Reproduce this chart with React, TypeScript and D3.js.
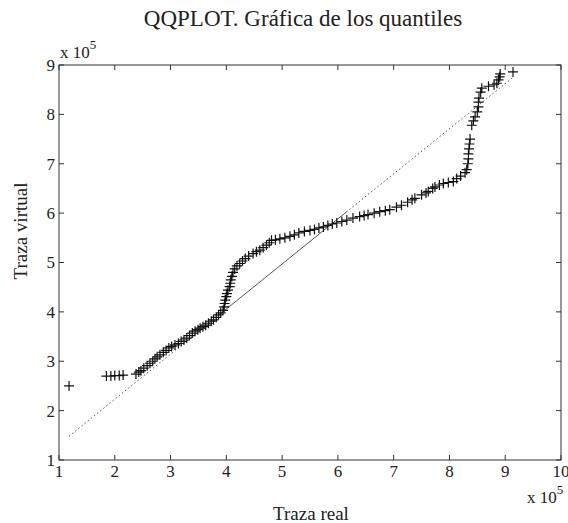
import React from 'react';
import * as d3 from 'd3';

// values in units of 10^5 (sorted quantile pairs)
const trazaReal = [
  1.18, 1.85, 1.93, 2.0, 2.08, 2.15, 2.38, 2.43, 2.47, 2.52, 2.58, 2.63, 2.68, 2.72, 2.76, 2.81,
  2.87, 2.92, 2.97, 3.02, 3.08, 3.14, 3.19, 3.24, 3.29, 3.34, 3.39, 3.44, 3.49, 3.53, 3.58, 3.63,
  3.68, 3.73, 3.77, 3.82, 3.86, 3.9, 3.94, 3.96, 3.97, 3.98, 4.0, 4.01, 4.03, 4.06, 4.07, 4.08,
  4.1, 4.12, 4.15, 4.19, 4.24, 4.29, 4.34, 4.4, 4.48, 4.54, 4.6, 4.66, 4.72, 4.77, 4.81, 4.88,
  4.96, 5.05, 5.14, 5.22, 5.3, 5.4, 5.5, 5.58, 5.66, 5.74, 5.82, 5.9, 5.98, 6.07, 6.16, 6.27,
  6.39, 6.47, 6.54, 6.65, 6.75, 6.85, 6.93, 7.05, 7.14, 7.25, 7.33, 7.38, 7.5, 7.58, 7.62, 7.7,
  7.74, 7.82, 7.89, 7.98, 8.07, 8.13, 8.2, 8.28, 8.31, 8.33, 8.34, 8.34, 8.35, 8.36, 8.37, 8.4,
  8.43, 8.46, 8.5, 8.52, 8.52, 8.53, 8.56, 8.58, 8.7, 8.8, 8.85, 8.88, 8.9, 8.91, 9.14,
];
const trazaVirtual = [
  2.5, 2.7, 2.7, 2.71, 2.71, 2.72, 2.74, 2.78, 2.81, 2.86, 2.91, 2.96, 3.0, 3.05, 3.09, 3.13,
  3.18, 3.22, 3.27, 3.3, 3.33, 3.36, 3.4, 3.43, 3.47, 3.52, 3.57, 3.61, 3.64, 3.67, 3.7, 3.73,
  3.77, 3.81, 3.84, 3.89, 3.94, 3.98, 4.03, 4.1, 4.17, 4.24, 4.31, 4.37, 4.44, 4.51, 4.58, 4.65,
  4.72, 4.8, 4.87, 4.93, 4.98, 5.03, 5.08, 5.13, 5.18, 5.22, 5.25, 5.3, 5.35, 5.4, 5.45, 5.46,
  5.48, 5.5, 5.53, 5.56, 5.6, 5.63, 5.65, 5.67, 5.7, 5.72, 5.75, 5.78, 5.8, 5.83, 5.86, 5.9,
  5.93, 5.95, 5.97, 6.0, 6.03, 6.05, 6.07, 6.12, 6.16, 6.22, 6.27, 6.3, 6.37, 6.41, 6.44, 6.5,
  6.53, 6.57, 6.6, 6.62, 6.64, 6.7, 6.75, 6.82, 6.88, 7.0, 7.1, 7.2, 7.3, 7.4, 7.5, 7.78,
  7.87, 7.95, 8.05, 8.15, 8.25, 8.33, 8.45, 8.53, 8.57, 8.6, 8.63, 8.7, 8.76, 8.82, 8.86,
];

// reference line anchors (1st and 3rd quartile)
const quartX = [3.85, 6.15];
const quartY = [3.92, 6.02];

const xTicks = [1, 2, 3, 4, 5, 6, 7, 8, 9, 10];
const yTicks = [1, 2, 3, 4, 5, 6, 7, 8, 9];

const W = 568;
const H = 523;
const left = 59, right = 561, top = 65, bottom = 460;
const font = '"Liberation Serif", "Times New Roman", serif';

export default function App() {
  const x = d3.scaleLinear().domain([1, 10]).range([left, right]);
  const y = d3.scaleLinear().domain([1, 9]).range([bottom, top]);

  const slope = (quartY[1] - quartY[0]) / (quartX[1] - quartX[0]);
  const lineY = (v: number) => quartY[0] + slope * (v - quartX[0]);
  const [xmin, xmax] = d3.extent(trazaReal) as [number, number];

  const line = d3.line<number>().x(d => x(d)).y(d => y(lineY(d)));

  const pts = trazaReal.map((v, i) => [x(v), y(trazaVirtual[i])]);
  const plus = pts.map(([px, py]) => `M${px - 5},${py}h10M${px},${py - 5}v10`).join('');

  const tick = 5;

  return (
    <svg width={W} height={H} style={{ position: 'absolute', left: 0, top: 0, background: '#fff' }}
      fontFamily={font}>
      <text x={303} y={26} fontSize={23} textAnchor="middle" fill="#222">QQPLOT. Gráfica de los quantiles</text>

      {/* reference line: dash-dot outside quartiles, solid inside */}
      <path d={line([xmin, quartX[0]]) || ''} fill="none" stroke="#555" strokeWidth={1} strokeDasharray="1.5,2.5" />
      <path d={line([quartX[1], xmax]) || ''} fill="none" stroke="#555" strokeWidth={1} strokeDasharray="1.5,2.5" />
      <path d={line(quartX) || ''} fill="none" stroke="#444" strokeWidth={0.9} />

      <path d={plus} fill="none" stroke="#111" strokeWidth={1.2} />

      {/* box and ticks */}
      <rect x={left} y={top} width={right - left} height={bottom - top} fill="none" stroke="#333" strokeWidth={1} />
      {xTicks.map(t => (
        <g key={'x' + t}>
          <line x1={x(t)} x2={x(t)} y1={bottom} y2={bottom - tick} stroke="#333" />
          <line x1={x(t)} x2={x(t)} y1={top} y2={top + tick} stroke="#333" />
          <text x={x(t)} y={477} fontSize={17} textAnchor="middle" fill="#222">{t}</text>
        </g>
      ))}
      {yTicks.map(t => (
        <g key={'y' + t}>
          <line x1={left} x2={left + tick} y1={y(t)} y2={y(t)} stroke="#333" />
          <line x1={right} x2={right - tick} y1={y(t)} y2={y(t)} stroke="#333" />
          <text x={55} y={y(t)} dy="0.35em" fontSize={17} textAnchor="end" fill="#222">{t}</text>
        </g>
      ))}

      {/* exponent labels */}
      <text x={60} y={58} fontSize={17} fill="#222">x 10<tspan dy={-9} fontSize={13}>5</tspan></text>
      <text x={527} y={503} fontSize={17} fill="#222">x 10<tspan dy={-9} fontSize={13}>5</tspan></text>

      <text x={311} y={520} fontSize={19} textAnchor="middle" fill="#222">Traza real</text>
      <text transform="translate(27,231) rotate(-90)" fontSize={19} textAnchor="middle" fill="#222">Traza virtual</text>
    </svg>
  );
}
